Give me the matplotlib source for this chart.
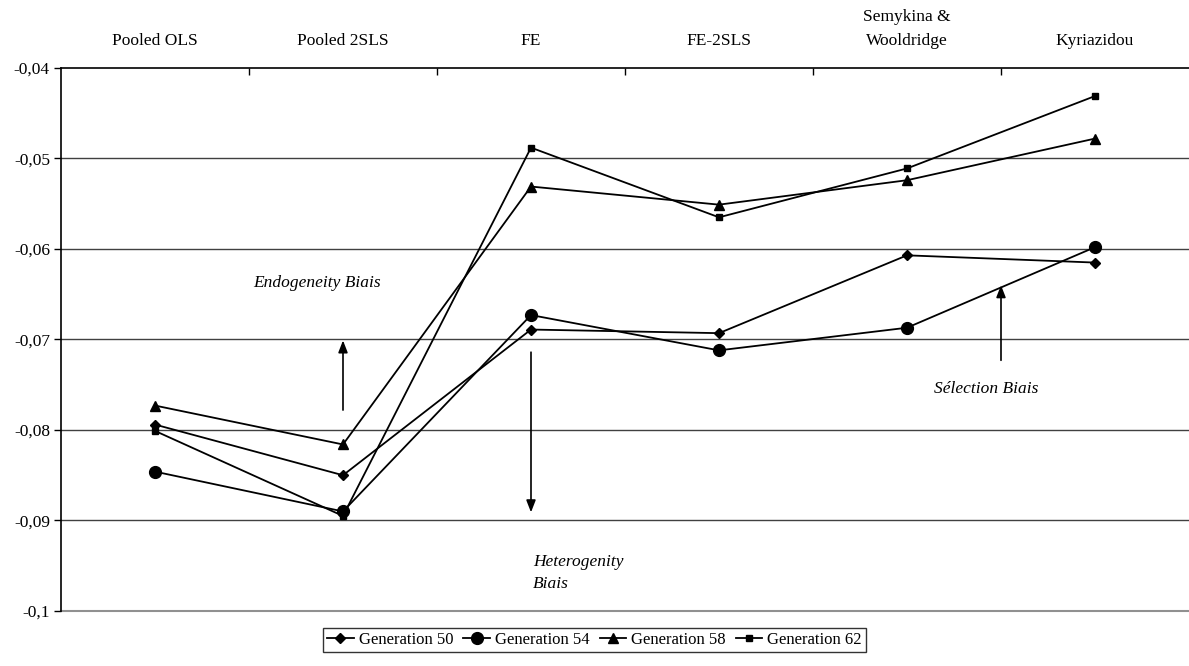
import numpy as np
import matplotlib
matplotlib.use('Agg')
import matplotlib.pyplot as plt
from matplotlib.ticker import FixedLocator, FuncFormatter

plt.rcParams['font.family'] = ['Liberation Serif', 'DejaVu Serif']

# --- data ---
categories = ['Pooled OLS', 'Pooled 2SLS', 'FE', 'FE-2SLS', 'Semykina &\nWooldridge', 'Kyriazidou']
gen50 = [-0.0794, -0.0850, -0.0689, -0.0693, -0.0607, -0.0615]
gen54 = [-0.0846, -0.0890, -0.0673, -0.0712, -0.0687, -0.0598]
gen58 = [-0.0773, -0.0816, -0.0531, -0.0551, -0.0524, -0.0478]
gen62 = [-0.0801, -0.0895, -0.0488, -0.0565, -0.0511, -0.0431]
series_labels = ['Generation 50', 'Generation 54', 'Generation 58', 'Generation 62']

fig = plt.figure(figsize=(11.89, 6.66), dpi=100)
ax = fig.add_axes([0.0513, 0.0826, 0.9487, 0.8153])

x = np.arange(len(categories))
styles = [('D', 5.5), ('o', 8.5), ('^', 7.5), ('s', 4.5)]
for ys, lab, (m, ms) in zip([gen50, gen54, gen58, gen62], series_labels, styles):
    ax.plot(x, ys, color='black', lw=1.3, marker=m, markersize=ms, label=lab)

ax.set_xlim(-0.5, len(categories) - 0.5)
ax.set_ylim(-0.1, -0.04)

# gridlines
for yv in np.arange(-0.09, -0.045, 0.01):
    ax.axhline(yv, color='#404040', lw=1.0, zorder=0)
ax.axhline(-0.1, color='#909090', lw=1.5, zorder=0, clip_on=False)

# y axis
ax.yaxis.set_major_locator(FixedLocator(np.round(np.arange(-0.1, -0.039, 0.01), 2)))
ax.yaxis.set_major_formatter(FuncFormatter(lambda v, p: ('%g' % round(v, 2)).replace('.', ',')))
ax.tick_params(axis='y', direction='out', length=5, labelsize=12.5, width=1, pad=3)

# category axis on top
ax.xaxis.tick_top()
ax.set_xticks(x)
ax.set_xticklabels(categories, fontsize=12.5, linespacing=1.6)
ax.set_xticks(np.arange(0.5, len(categories) - 1, 1.0), minor=True)
ax.tick_params(axis='x', which='major', length=0, pad=14)
ax.tick_params(axis='x', which='minor', direction='in', length=5, width=1)

for s in ['right', 'bottom']:
    ax.spines[s].set_visible(False)
ax.spines['left'].set_linewidth(1.2)
ax.spines['top'].set_linewidth(1.2)

# annotations
arrow = dict(arrowstyle='-|>,head_length=0.9,head_width=0.35', color='black', lw=1.2,
             mutation_scale=8, shrinkA=0, shrinkB=0)
ax.annotate('', xy=(1.0, -0.0701), xytext=(1.0, -0.0778), arrowprops=arrow)
ax.annotate('', xy=(2.0, -0.0891), xytext=(2.0, -0.0714), arrowprops=arrow)
ax.annotate('', xy=(4.5, -0.0640), xytext=(4.5, -0.0723), arrowprops=arrow)
ax.text(0.86, -0.0638, 'Endogeneity Biais', fontsize=12.5, style='italic', ha='center', va='center')
ax.text(2.01, -0.0958, 'Heterogenity\nBiais', fontsize=12.5, style='italic', ha='left', va='center',
        linespacing=1.5)
ax.text(4.42, -0.0755, 'Sélection Biais', fontsize=12.5, style='italic', ha='center', va='center')

leg = fig.legend(loc='lower center', bbox_to_anchor=(0.5, 0.008), ncol=4, fontsize=12,
                 frameon=True, fancybox=False, edgecolor='black', handlelength=1.6,
                 handletextpad=0.3, columnspacing=0.6, borderpad=0.25)
leg.get_frame().set_linewidth(1.0)

fig.savefig('out.png', dpi=100)
